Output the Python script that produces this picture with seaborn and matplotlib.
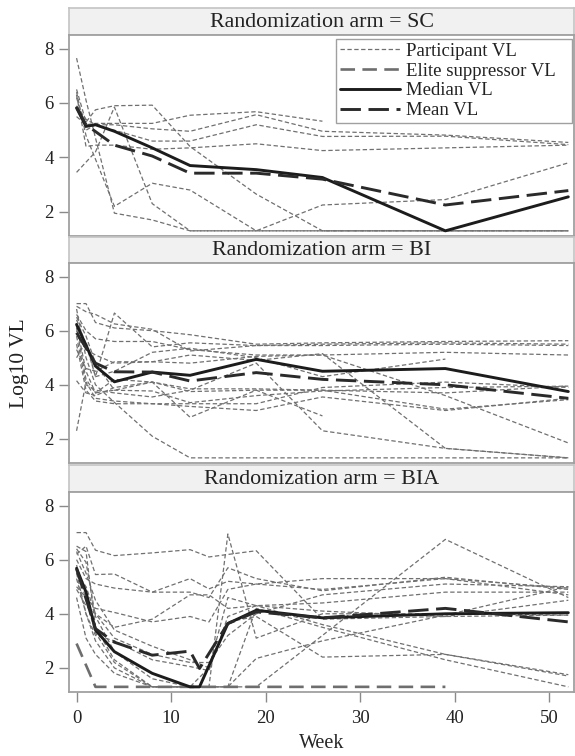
import numpy as np
import pandas as pd
import matplotlib
matplotlib.use("Agg")
import matplotlib.pyplot as plt
from matplotlib.lines import Line2D
from matplotlib.patches import Rectangle
import seaborn as sns

nan = np.nan

# ---------------- DATA (log10 viral load by week) ----------------
sc_weeks = [0, 1, 2, 4, 8, 12, 19, 26, 39, 52]
sc_participants = [
    [7.65, 6.1, nan, 1.95, 1.7, 1.3, 1.3, 1.3, 1.3, 1.3],
    [3.45, nan, 4.2, 5.85, 2.3, 1.3, 1.3, 1.3, 1.3, 1.3],
    [6.5, 5.3, 5.75, 5.9, 5.92, 4.4, 2.65, 1.3, 1.3, 1.3],
    [5.5, 5.2, 5.25, 5.25, 5.25, 5.55, 5.68, 5.33, nan, nan],
    [5.9, 5.4, 5.2, 5.2, 5.05, 4.96, 5.57, 4.96, 4.82, 4.55],
    [6.2, 5.0, 5.2, 5.0, 4.6, 4.6, 5.2, 4.77, 4.78, 4.47],
    [6.3, 4.4, 4.45, 4.45, 4.3, 4.35, 4.5, 4.25, 4.35, 4.45],
    [6.4, 4.8, nan, 2.2, 3.05, 2.8, 1.3, 2.25, 2.45, 3.8],
]
sc_median = [5.82, 5.14, 5.2, 4.96, 4.35, 3.7, 3.55, 3.26, 1.3, 2.55]
sc_mean = [5.85, 5.2, 4.95, 4.45, 4.05, 3.42, 3.42, 3.2, 2.25, 2.78]

bi_weeks = [0, 1, 2, 4, 8, 12, 19, 26, 39, 52]
bi_participants = [
    [7.0, 7.0, 6.3, 6.1, 6.0, 5.85, 5.5, 5.55, 5.6, 5.63],
    [6.9, 6.7, 6.6, 6.25, 6.05, 5.25, 5.45, 5.5, 5.55, 5.5],
    [6.4, 5.5, 4.3, 6.65, 5.4, 5.55, 5.45, 5.45, 5.5, 5.45],
    [6.6, 6.0, 5.7, 5.6, 5.6, 5.3, 5.1, 5.1, 3.6, 1.85],
    [5.3, 4.6, 4.5, 4.85, 4.85, 4.8, 5.05, 5.1, 5.2, 5.1],
    [5.0, 5.6, 4.3, 4.5, 5.2, 5.35, 5.0, 4.3, 4.95, nan],
    [4.15, 3.7, 3.6, 3.9, 4.1, 3.75, 3.8, 3.8, 3.7, 3.95],
    [2.3, 4.1, 3.5, 3.4, 3.3, 3.2, 3.05, 3.55, 3.05, 3.5],
    [6.2, 4.5, 3.7, 4.2, 4.1, 2.8, 3.8, 2.85, nan, nan],
    [6.8, 5.0, 4.0, 3.35, 2.1, 1.3, 1.3, 1.3, 1.3, 1.3],
    [6.5, 5.8, 4.8, 3.8, 3.77, 3.34, 3.6, 3.77, 3.9, 3.95],
    [5.8, 4.0, 3.8, 3.7, 3.55, 3.8, 4.8, 2.3, 1.65, 1.3],
    [5.5, 3.8, 3.4, 3.3, 3.3, 3.3, 3.3, 3.9, 4.1, 3.9],
    [6.1, 4.2, 3.7, 3.8, 4.1, 3.85, 3.85, 3.8, 3.1, 3.45],
    [6.0, 5.3, 5.1, 4.8, 4.85, 5.1, 4.9, 5.15, 1.65, 1.3],
]
bi_median = [6.23, nan, 4.69, 4.11, 4.47, 4.35, 4.94, 4.5, 4.6, 3.75]
bi_mean = [5.92, nan, 4.8, 4.48, 4.47, 4.14, 4.45, 4.2, 4.0, 3.5]

bia_weeks = [0, 1, 2, 4, 8, 12, 13, 14, 16, 19, 26, 39, 52]
bia_participants = [
    [7.0, 7.0, 6.35, 6.15, 6.25, 6.37, nan, 6.1, nan, 6.33, 3.8, 3.9, 3.95],
    [6.5, 6.3, 3.5, 2.3, 1.3, 1.3, nan, 1.3, 6.95, 3.1, 4.0, 4.0, 3.95],
    [6.2, 6.5, 5.45, 5.47, 4.8, 5.3, nan, 4.92, 5.2, 5.1, 4.9, 5.3, 4.95],
    [6.0, 5.3, 5.1, 4.95, 4.8, 4.8, nan, 4.6, 5.7, 5.3, 4.85, 5.35, 4.9],
    [4.9, 4.3, 4.0, 3.5, 3.8, 4.7, nan, 4.7, 4.2, 4.3, 3.6, 2.5, 1.7],
    [5.5, 4.0, 3.2, 3.0, 2.3, 2.05, nan, 1.9, 3.9, 4.3, 4.1, 3.9, 4.5],
    [4.6, 3.1, 2.5, 1.8, 1.3, 1.3, nan, 1.3, 1.3, 1.3, 3.2, 6.75, 4.6],
    [5.3, 4.0, 3.0, 2.0, 1.3, 1.3, nan, 2.0, 4.6, 4.3, 4.4, 4.8, 4.8],
    [6.3, 5.5, 4.5, 3.4, 2.8, 2.3, nan, 2.0, 3.7, 3.9, 2.4, 2.5, 1.75],
    [5.8, 4.5, 3.3, 2.2, 1.3, 1.3, nan, 1.3, 1.3, 2.35, 3.0, 3.95, 5.0],
    [5.0, 4.6, 4.2, 4.05, 3.7, 3.9, nan, 3.7, 4.9, 5.1, 5.3, 5.3, 4.7],
    [6.4, 5.9, 3.9, 2.6, 1.6, 1.3, nan, 1.3, 1.3, 4.2, 3.5, 2.3, 1.3],
    [5.5, 5.0, 4.0, 3.1, 2.5, 2.2, nan, 2.2, 3.2, 4.0, 4.7, 5.1, 5.0],
]
bia_median = [5.68, 4.8, 3.4, 2.6, 1.8, 1.3, 1.3, nan, 3.64, 4.13, 3.85, 4.0, 4.04]
bia_mean = [5.66, nan, 3.45, 2.95, 2.47, 2.62, 1.98, nan, 3.64, 4.07, 3.85, 4.2, 3.7]
bia_elite_weeks = [0, 2, 39]
bia_elite = [2.9, 1.3, 1.3]

# ---------------- STYLE ----------------
sns.set_theme(style="ticks")
plt.rcParams["font.family"] = ["Liberation Serif", "DejaVu Serif"]
plt.rcParams["text.color"] = "#222222"

PART_COLOR = "#707070"
ELITE_COLOR = "#6e6e6e"
MED_COLOR = "#1c1c1c"
MEAN_COLOR = "#2a2a2a"
PART_LS = (0, (3.5, 2.0))
ELITE_LS = (0, (5.5, 2.8))
MEAN_LS = (0, (7.0, 2.6))


def long_frame(weeks, rows):
    recs = []
    for pid, vals in enumerate(rows):
        for w, v in zip(weeks, vals):
            if not np.isnan(v):
                recs.append((pid, w, v))
    return pd.DataFrame(recs, columns=["pid", "week", "vl"])


def summary_frame(weeks, vals):
    df = pd.DataFrame({"week": weeks, "vl": vals})
    return df.dropna()


def px_axes(fig, left, top, right, bottom):
    W, H = 575, 756
    return fig.add_axes([left / W, 1 - bottom / H, (right - left) / W, (bottom - top) / H])


fig = plt.figure(figsize=(5.75, 7.56), dpi=100)

panels = [
    ("SC", 8, 35, 236, sc_weeks, sc_participants, sc_median, sc_mean),
    ("BI", 237, 263, 463, bi_weeks, bi_participants, bi_median, bi_mean),
    ("BIA", 465, 492, 692, bia_weeks, bia_participants, bia_median, bia_mean),
]

axes = []
for i, (arm, s_top, p_top, p_bot, weeks, parts, med, mean) in enumerate(panels):
    # strip header
    st = px_axes(fig, 69, s_top, 574, p_top)
    st.set_facecolor("#f1f1f1")
    st.set_xticks([])
    st.set_yticks([])
    for sp in st.spines.values():
        sp.set_color("#c4c4c4")
        sp.set_linewidth(1.2)
    st.text(0.5, 0.47, f"Randomization arm = {arm}", ha="center", va="center",
            fontsize=15.8, transform=st.transAxes)

    ax = px_axes(fig, 69, p_top, 574, p_bot)
    axes.append(ax)

    sns.lineplot(data=long_frame(weeks, parts), x="week", y="vl", units="pid",
                 estimator=None, color=PART_COLOR, lw=0.9, linestyle=PART_LS,
                 legend=False, ax=ax)
    if arm == "BIA":
        sns.lineplot(data=summary_frame(bia_elite_weeks, bia_elite), x="week", y="vl",
                     estimator=None, color=ELITE_COLOR, lw=1.9, linestyle=ELITE_LS,
                     legend=False, ax=ax)
    sns.lineplot(data=summary_frame(weeks, med), x="week", y="vl", estimator=None,
                 color=MED_COLOR, lw=2.1, legend=False, ax=ax)
    sns.lineplot(data=summary_frame(weeks, mean), x="week", y="vl", estimator=None,
                 color=MEAN_COLOR, lw=2.1, linestyle=MEAN_LS, legend=False, ax=ax)

    ax.set_xlim(-0.8, 52.6)
    ax.set_ylim(1.11, 8.5)
    ax.set_yticks([2, 4, 6, 8])
    ax.set_xticks([0, 10, 20, 30, 40, 50])
    ax.set_xlabel("")
    ax.set_ylabel("")
    for sp in ax.spines.values():
        sp.set_color("#a0a0a0")
        sp.set_linewidth(1.3)
    ax.tick_params(axis="both", direction="out", length=7, width=1, color="#8a8a8a",
                   labelsize=13.5, labelcolor="#222222", pad=4)
    if i < 2:
        ax.tick_params(axis="x", bottom=False, labelbottom=False)
    else:
        ax.tick_params(axis="x", pad=6)

axes[2].set_xlabel("Week", fontsize=14.5, labelpad=5)
fig.text(20 / 575, 1 - 363 / 756, "Log10 VL", rotation=90, ha="center", va="center",
         fontsize=15.5)

# legend (frame drawn separately so it can reach the right border like the original)
handles = [
    Line2D([], [], color=PART_COLOR, lw=0.9, linestyle=PART_LS),
    Line2D([], [], color=ELITE_COLOR, lw=1.9, linestyle=ELITE_LS),
    Line2D([], [], color=MED_COLOR, lw=2.1),
    Line2D([], [], color=MEAN_COLOR, lw=2.1, linestyle=MEAN_LS),
]
labels = ["Participant VL", "Elite suppressor VL", "Median VL", "Mean VL"]
ax0 = axes[0]
leg = ax0.legend(handles, labels, loc="upper right",
                 bbox_to_anchor=(1 - 15 / 505, 1 - 4 / 201),
                 borderaxespad=0, frameon=False, fontsize=13.5,
                 handlelength=3.2, handletextpad=0.3, labelspacing=0.14, borderpad=0.2)
leg.set_zorder(6)

fig.canvas.draw()
bb = leg.get_window_extent(fig.canvas.get_renderer())
inv = fig.transFigure.inverted()
(x0, y0), (x1, y1) = inv.transform([(bb.x0, bb.y0), (bb.x1, bb.y1)])
ax_right = ax0.get_position().x1 - 2.3 / 575
ax0.add_patch(Rectangle((x0, y0), ax_right - x0, y1 - y0, transform=fig.transFigure,
                        facecolor="white", edgecolor="#a0a0a0", lw=1.0, zorder=5,
                        clip_on=False))

fig.savefig("out.png", dpi=100)
